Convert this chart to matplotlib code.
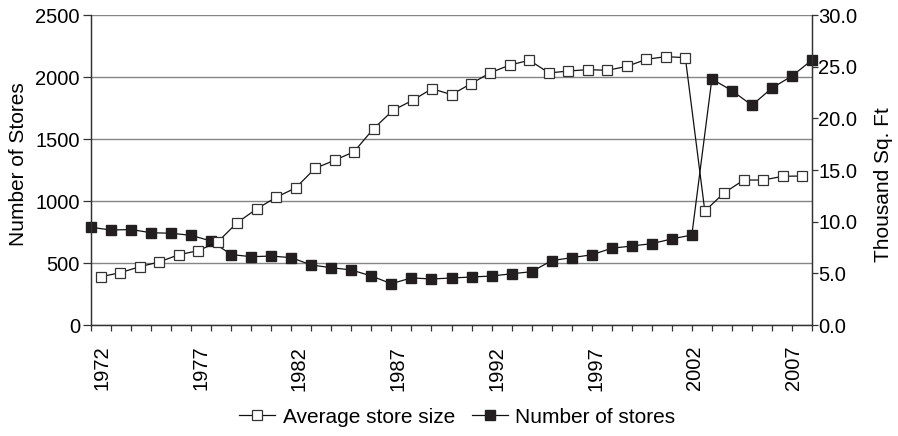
import numpy as np
import matplotlib
matplotlib.use('Agg')
import matplotlib.pyplot as plt

plt.rcParams['font.family'] = ['Liberation Sans', 'DejaVu Sans']

years = list(range(1972, 2009))
label_years = [1972, 1977, 1982, 1987, 1992, 1997, 2002, 2007]

# number of stores (left axis)
stores = [788, 766, 770, 744, 740, 723, 677, 568, 551, 556,
          543, 484, 462, 444, 395, 333, 380, 371, 379, 387,
          395, 413, 430, 519, 543, 566, 619, 637, 656, 694,
          726, 1984, 1890, 1772, 1911, 2008, 2137]

# average store size, thousand sq. ft (right axis)
avg_size = [4.67, 5.06, 5.64, 6.10, 6.80, 7.19, 8.03, 9.90, 11.23, 12.36,
            13.26, 15.16, 15.94, 16.77, 19.00, 20.78, 21.74, 22.87, 22.29, 23.35,
            24.42, 25.16, 25.62, 24.39, 24.58, 24.71, 24.65, 25.03, 25.71, 25.97,
            25.87, 11.03, 12.80, 14.03, 14.03, 14.39, 14.42]

W, H = 898, 436
fig = plt.figure(figsize=(W / 100, H / 100), dpi=100)
ax = fig.add_axes([91 / W, 1 - 325 / H, (812 - 91) / W, (325 - 15) / H])
ax2 = ax.twinx()

dark = '#333333'
fs = 14.5

# store count sits on the tick marks, size series is centred between them
n = len(years)
size_pos = [years[0] + (k + 0.5) * (n - 1) / n for k in range(n)]

ax.plot(years, stores, color='#111111', lw=0.9, marker='s', ms=7,
        mfc='#231f20', mec='#231f20', zorder=3, clip_on=False)
ax2.plot(size_pos, avg_size, color='#111111', lw=0.9, marker='s', ms=6.6,
         mfc='white', mec=dark, mew=0.9, zorder=3, clip_on=False)

ax.set_xlim(1972, 2008)
ax.set_ylim(0, 2500)
ax2.set_ylim(0, 30)

ax.set_yticks(np.arange(0, 2501, 500))
ax.yaxis.grid(True, color='#858585', lw=1.0)
ax.set_axisbelow(True)
ax2.set_yticks(np.arange(0, 30.1, 5))
ax2.set_yticklabels([f'{v:.1f}' for v in np.arange(0, 30.1, 5)])

ax.set_xticks(years, minor=True)
ax.set_xticks([1972.55 + 0.986 * (y - 1972) for y in label_years])
ax.set_xticklabels([str(y) for y in label_years], rotation=90)
ax.tick_params(axis='x', which='major', length=0, pad=15, labelsize=fs)
ax.tick_params(axis='x', which='minor', length=4.3, width=0.9, color=dark)
ax.tick_params(axis='y', length=6, width=0.9, color=dark, pad=2, labelsize=fs)
ax2.tick_params(axis='y', length=4, width=0.9, color=dark, pad=0.5, labelsize=fs)

for a in (ax, ax2):
    a.spines['top'].set_visible(False)
    for s in ('left', 'right', 'bottom'):
        a.spines[s].set_color(dark)
        a.spines[s].set_linewidth(0.9)

ax.set_ylabel('Number of Stores', fontsize=15)
ax.yaxis.set_label_coords(-0.088, 0.519)
ax2.set_ylabel('Thousand Sq. Ft', fontsize=15)
ax2.yaxis.set_label_coords(1.086, 0.452)

h1, = ax.plot([], [], color='#111111', lw=0.9, marker='s', ms=6.6,
              mfc='white', mec=dark, mew=0.9)
h2, = ax.plot([], [], color='#111111', lw=0.9, marker='s', ms=7,
              mfc='#231f20', mec='#231f20')
fig.legend([h1, h2], ['Average store size', 'Number of stores'],
           loc='center', bbox_to_anchor=(457.5 / W, 1 - 417 / H), ncol=2,
           frameon=False, fontsize=15, handlelength=1.7,
           handletextpad=0.38, columnspacing=0.82)

fig.savefig('out.png', dpi=100)
